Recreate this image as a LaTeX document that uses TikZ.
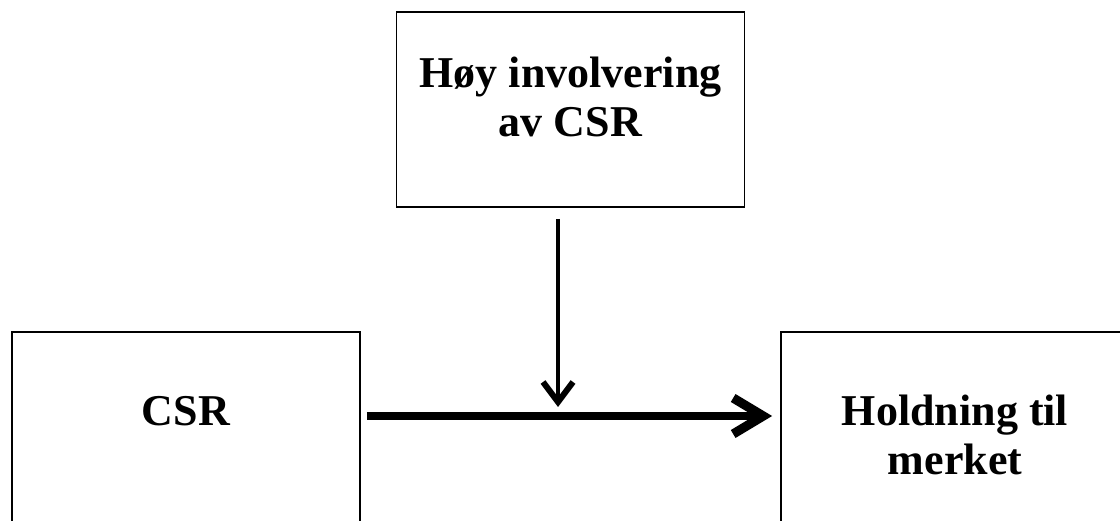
\documentclass[tikz,border=0pt]{standalone}
\usepackage{fontspec}
\setmainfont{Liberation Serif}
\usetikzlibrary{arrows.meta,positioning}

\begin{document}
\begin{tikzpicture}
\tikzset{box/.style={draw, line width=0.9pt, minimum width=174pt, minimum height=97.5pt, inner sep=0pt},
	boxtext/.style={align=center, inner sep=0pt, font=\bfseries\fontsize{22}{24.5}\selectfont},
	mainarrow/.style={line width=4.4pt, -{Straight Barb[length=15pt,width=18pt,line width=4.6pt]}},
	modarrow/.style={line width=2.4pt, -{Straight Barb[length=10pt,width=15pt,line width=3pt]}}}
	\useasboundingbox (0,0) rectangle (560pt,260pt);
	\clip (0,0) rectangle (560pt,260pt);
	\node[box] (involv) at (285.25pt,205.25pt) {};
	\node[box] (csr) at (93pt,45.25pt) {};
	\node[box] (attitude) at (477.5pt,45.25pt) {};
	\node[boxtext] (involvtext) at ([yshift=6.25pt]involv.center) {Høy involvering\\av CSR};
	\node[boxtext] (csrtext) at ([yshift=9.25pt]csr.center) {CSR};
	\node[boxtext] (attitudetext) at ([yshift=-2.5pt]attitude.center) {Holdning til\\merket};
	\coordinate (hit) at (279pt,56.5pt);
	\draw[mainarrow] ([shift={(3pt,6.75pt)}]csr.east) -- ([shift={(-4pt,6.75pt)}]attitude.west);
	\draw[modarrow] ([shift={(-6.25pt,-5.5pt)}]involv.south) -- (hit);
\end{tikzpicture}
\end{document}
